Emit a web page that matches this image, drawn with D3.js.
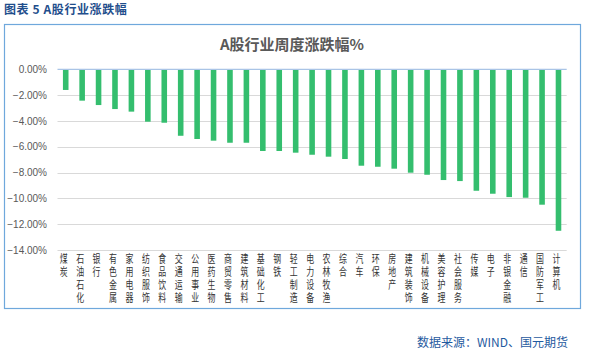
<!DOCTYPE html>
<html>
<head>
<meta charset="utf-8">
<script src="https://cdn.jsdelivr.net/npm/d3@7"></script>
<style>
  body { margin: 0; background: #fff; }
  svg { display: block; }
  .tick line { display: none; }
</style>
</head>
<body>
<svg id="chart"></svg>
<script>
// industries, ordered as in the chart
const categories = ['煤炭', '石油石化', '银行', '有色金属', '家用电器', '纺织服饰', '食品饮料', '交通运输',
  '公用事业', '医药生物', '商贸零售', '建筑材料', '基础化工', '钢铁', '轻工制造', '电力设备', '农林牧渔',
  '综合', '汽车', '环保', '房地产', '建筑装饰', '机械设备', '美容护理', '社会服务', '传媒', '电子',
  '非银金融', '通信', '国防军工', '计算机'];

// weekly change, %
const changes = [-1.60, -2.43, -2.77, -3.08, -3.28, -4.06, -4.14, -5.15,
  -5.40, -5.53, -5.69, -5.69, -6.33, -6.33, -6.46, -6.62, -6.77,
  -6.95, -7.47, -7.55, -7.70, -8.01, -8.17, -8.58, -8.66, -9.41, -9.64,
  -9.90, -9.95, -10.49, -12.51];

const yTicks = [0, -2, -4, -6, -8, -10, -12, -14];

const W = 593, H = 361;
const data = categories.map((c, i) => ({ name: c, value: changes[i] }));

const svg = d3.select('#chart').attr('width', W).attr('height', H);

// header + frame
svg.append('text')
  .attr('x', 4).attr('y', 14)
  .attr('font-family', '"Noto Sans CJK SC", sans-serif')
  .attr('font-size', 12).attr('font-weight', 'bold')
  .attr('fill', '#1f4e8c')
  .style('letter-spacing', '0.6px')
  .text('图表 5 A股行业涨跌幅');

svg.append('rect')
  .attr('x', 4.5).attr('y', 24.5)
  .attr('width', 576).attr('height', 284)
  .attr('fill', 'none').attr('stroke', '#6fa8dc').attr('stroke-width', 1.2);

svg.append('text')
  .attr('x', 292).attr('y', 50)
  .attr('text-anchor', 'middle')
  .attr('font-family', '"Noto Sans CJK SC", sans-serif')
  .attr('font-size', 15).attr('font-weight', 'bold')
  .attr('fill', '#595959')
  .text('A股行业周度涨跌幅%');

const x = d3.scaleBand()
  .domain(categories)
  .range([57.5, 566.7])
  .paddingInner(0.66)
  .paddingOuter(0.33);

const y = d3.scaleLinear().domain([0, -14]).range([69.3, 250]);

// gridlines
svg.append('g')
  .selectAll('line')
  .data(yTicks.filter(d => d !== 0))
  .join('line')
  .attr('x1', 57.5).attr('x2', 566.7)
  .attr('y1', d => Math.round(y(d)) + 0.5).attr('y2', d => Math.round(y(d)) + 0.5)
  .attr('stroke', '#d9d9d9').attr('stroke-width', 1);

// y axis labels
const yAxis = d3.axisLeft(y)
  .tickValues(yTicks)
  .tickSize(0)
  .tickPadding(0)
  .tickFormat(d => d3.format('.2f')(d) + '%');

svg.append('g')
  .attr('transform', 'translate(47,0)')
  .call(yAxis)
  .call(g => g.select('.domain').remove())
  .selectAll('text')
  .attr('font-family', 'Arial, "Liberation Sans", sans-serif')
  .attr('font-size', 10)
  .attr('fill', '#595959');

// bars
svg.append('g')
  .selectAll('rect')
  .data(data)
  .join('rect')
  .attr('x', d => x(d.name))
  .attr('y', y(0))
  .attr('width', x.bandwidth())
  .attr('height', d => y(d.value) - y(0))
  .attr('fill', '#34be6e');

// zero line
svg.append('line')
  .attr('x1', 57.5).attr('x2', 566.7)
  .attr('y1', y(0)).attr('y2', y(0))
  .attr('stroke', '#a9c4e6').attr('stroke-width', 1.2);

// category labels, upright vertical text, squeezed sideways
const xAxis = d3.axisBottom(x).tickSize(0).tickPadding(0);
const xg = svg.append('g')
  .attr('transform', 'translate(-2,253)')
  .call(xAxis)
  .call(g => g.select('.domain').remove());

xg.selectAll('text')
  .attr('y', 0).attr('dy', 0)
  .attr('text-anchor', 'start')
  .attr('transform', 'scale(0.72,1)')
  .attr('font-family', '"Noto Sans CJK SC", sans-serif')
  .attr('font-size', 11)
  .attr('fill', '#333')
  .style('writing-mode', 'vertical-rl')
  .style('text-orientation', 'upright')
  .style('letter-spacing', '2px');

// footer
svg.append('text')
  .attr('x', 568).attr('y', 347)
  .attr('text-anchor', 'end')
  .attr('font-family', '"Noto Sans CJK SC", sans-serif')
  .attr('font-size', 12)
  .attr('fill', '#1f5aa0')
  .text('数据来源：WIND、国元期货');
</script>
</body>
</html>
